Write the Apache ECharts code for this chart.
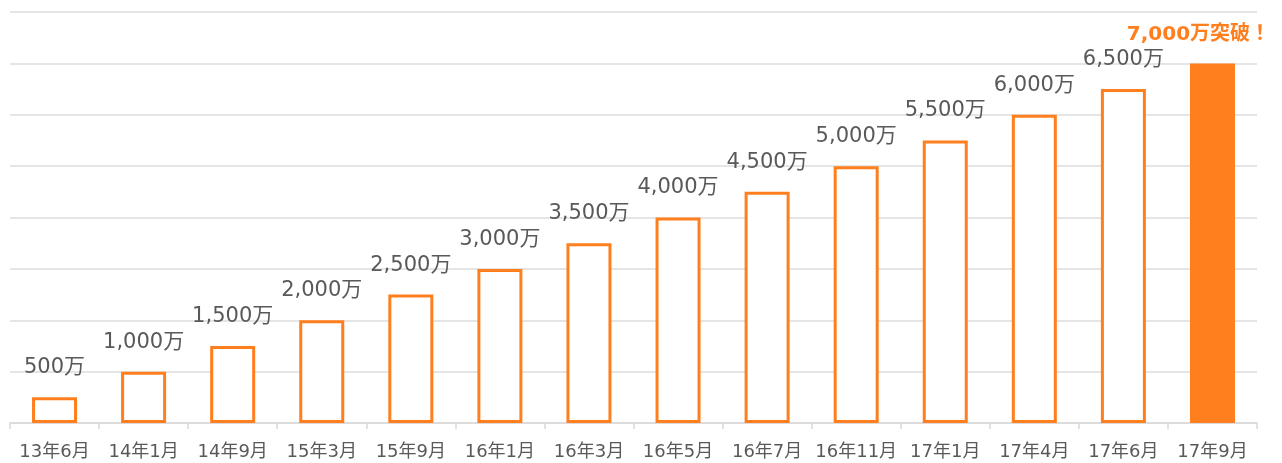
<!DOCTYPE html>
<html>
<head>
<meta charset="utf-8">
<script src="https://cdn.jsdelivr.net/npm/echarts@6/dist/echarts.min.js"></script>
<style>
  html, body { margin: 0; padding: 0; background: #fff; }
  #main { width: 1282px; height: 463px; }
</style>
</head>
<body>
<div id="main"></div>
<script>
// 会員数の推移
var categories = ['13年6月', '14年1月', '14年9月', '15年3月', '15年9月', '16年1月', '16年3月',
  '16年5月', '16年7月', '16年11月', '17年1月', '17年4月', '17年6月', '17年9月'];
var values = [500, 1000, 1500, 2000, 2500, 3000, 3500, 4000, 4500, 5000, 5500, 6000, 6500, 7000];
var highlightLabel = '7,000万突破！';
var yTicks = [0, 1000, 2000, 3000, 4000, 5000, 6000, 7000, 8000];

var orange = '#ff7f1e';
var font = '"DejaVu Sans", "Noto Sans CJK JP", sans-serif';

var chart = echarts.init(document.getElementById('main'));

var last = values.length - 1;
var data = values.map(function (v, i) {
  if (i === last) {
    return {
      value: v,
      itemStyle: { color: orange, borderColor: orange, borderWidth: 0 },
      label: {
        formatter: highlightLabel,
        color: orange,
        fontWeight: 'bold',
        fontSize: 20,
        offset: [-14, 0]
      }
    };
  }
  return { value: v };
});

chart.setOption({
  animation: false,
  grid: { left: 10, right: 25, top: 12, bottom: 40, containLabel: false },
  xAxis: {
    type: 'category',
    data: categories,
    axisLine: { lineStyle: { color: '#d9d9d9', width: 1.5 } },
    axisTick: { show: true, length: 6, lineStyle: { color: '#d9d9d9', width: 1.5 } },
    axisLabel: {
      interval: 0,
      hideOverlap: false,
      color: '#595959',
      fontSize: 18,
      fontFamily: font,
      margin: 20
    }
  },
  yAxis: {
    type: 'value',
    min: yTicks[0],
    max: yTicks[yTicks.length - 1],
    interval: 1000,
    axisLabel: { show: false },
    axisLine: { show: false },
    axisTick: { show: false },
    splitLine: { lineStyle: { color: '#dcdcdc', width: 1.5 } }
  },
  series: [{
    type: 'bar',
    data: data,
    barWidth: 45,
    itemStyle: { color: '#ffffff', borderColor: orange, borderWidth: 3 },
    label: {
      show: true,
      position: 'top',
      distance: 19,
      color: '#595959',
      fontSize: 21,
      fontFamily: font,
      formatter: function (p) {
        return p.value.toLocaleString('en-US') + '万';
      }
    }
  }]
});
</script>
</body>
</html>
